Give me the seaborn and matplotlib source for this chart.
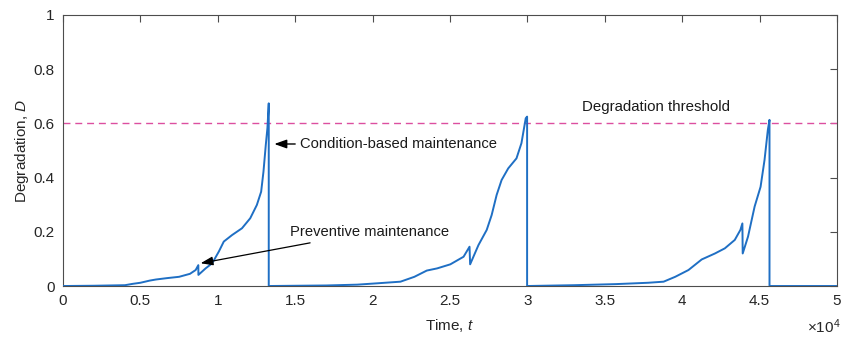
import numpy as np
import pandas as pd
import matplotlib
matplotlib.use("Agg")
import matplotlib.pyplot as plt
import seaborn as sns

# Data (time in raw units; axis shows x10^4)
time_c1 = [0, 2000, 4000, 4500, 5000, 5600, 6000, 6700, 7500, 8200, 8568, 8740, 8745,
           9210, 9637, 10064, 10385, 10919, 11560, 12094, 12521, 12799, 12949, 13098, 13205, 13290, 13290]
deg_c1 = [0, 0.001, 0.003, 0.008, 0.012, 0.02, 0.024, 0.029, 0.034, 0.045, 0.059, 0.077, 0.041,
          0.065, 0.084, 0.127, 0.164, 0.188, 0.213, 0.25, 0.299, 0.348, 0.422, 0.52, 0.583, 0.674, 0.0]
time_c2 = [17000, 19000, 20300, 21800, 22700, 23500, 24167, 25021, 25876, 26261, 26300,
           26838, 27372, 27692, 28013, 28333, 28761, 29295, 29615, 29893, 29981, 29981]
deg_c2 = [0.002, 0.005, 0.01, 0.016, 0.034, 0.057, 0.065, 0.08, 0.108, 0.145, 0.08,
          0.151, 0.207, 0.262, 0.336, 0.391, 0.434, 0.471, 0.527, 0.619, 0.625, 0.0]
time_c3 = [33000, 35700, 37800, 38800, 39551, 40406, 41261, 42115, 42756, 43397, 43761, 43889, 43910,
           44252, 44679, 45064, 45320, 45534, 45641, 45641, 50000]
deg_c3 = [0.003, 0.007, 0.012, 0.016, 0.034, 0.059, 0.098, 0.12, 0.139, 0.17, 0.207, 0.231, 0.12,
          0.182, 0.293, 0.366, 0.465, 0.576, 0.613, 0.0, 0.0]
threshold = 0.6
x_ticks = [0, 5000, 10000, 15000, 20000, 25000, 30000, 35000, 40000, 45000, 50000]
x_tick_labels = ["0", "0.5", "1", "1.5", "2", "2.5", "3", "3.5", "4", "4.5", "5"]
y_ticks = [0, 0.2, 0.4, 0.6, 0.8, 1]
y_tick_labels = ["0", "0.2", "0.4", "0.6", "0.8", "1"]

sns.set_theme(style="white")
plt.rcParams['font.family'] = ['Liberation Sans', 'DejaVu Sans']
plt.rcParams['mathtext.fontset'] = 'custom'
plt.rcParams['mathtext.it'] = 'Liberation Sans:italic'
plt.rcParams['mathtext.rm'] = 'Liberation Sans'

t = time_c1 + time_c2 + time_c3
d = deg_c1 + deg_c2 + deg_c3
df = pd.DataFrame({"t": t, "D": d})

fig = plt.figure(figsize=(8.45, 3.39), dpi=100)
ax = fig.add_axes([0.0746, 0.1563, 0.9159, 0.7995])

ax.axhline(threshold, color="#dc4fa0", lw=1.0, ls=(0, (5, 3.5)), zorder=1)
sns.lineplot(data=df, x="t", y="D", sort=False, estimator=None, color="#1f6fc4", lw=1.4, ax=ax, zorder=3)

ax.set_xlim(0, 50000)
ax.set_ylim(0, 1)
ax.set_xticks(x_ticks)
ax.set_xticklabels(x_tick_labels)
ax.set_yticks(y_ticks)
ax.set_yticklabels(y_tick_labels)
ax.tick_params(direction="in", length=5, width=0.8, colors="#4d4d4d", labelcolor="#262626",
               labelsize=11, top=True, right=True, pad=6)
for s in ax.spines.values():
    s.set_color("#4d4d4d")
    s.set_linewidth(0.8)
ax.set_xlabel("Time, $t$", fontsize=11, color="#262626", labelpad=6)
ax.set_ylabel("Degradation, $D$", fontsize=11, color="#262626", labelpad=2)

ax.annotate("Condition-based maintenance", xy=(13650, 0.524), xytext=(15300, 0.524),
            fontsize=10.6, color="#1a1a1a", va="center", ha="left",
            arrowprops=dict(arrowstyle="-|>,head_length=0.7,head_width=0.25", color="black", lw=1.0,
                            shrinkA=1, shrinkB=0))
ax.annotate("Preventive maintenance", xy=(8890, 0.084), xytext=(14650, 0.2),
            fontsize=10.6, color="#1a1a1a", va="center", ha="left",
            arrowprops=dict(arrowstyle="-|>,head_length=0.7,head_width=0.25", color="black", lw=0.9,
                            shrinkA=3, shrinkB=0))
ax.text(38300, 0.66, "Degradation threshold", fontsize=10.8, color="#1a1a1a", ha="center", va="center")

fig.text(0.995, 0.035, r"$\times$10$^{4}$", fontsize=11, color="#262626", ha="right", va="center")

fig.savefig("out.png", dpi=100)
